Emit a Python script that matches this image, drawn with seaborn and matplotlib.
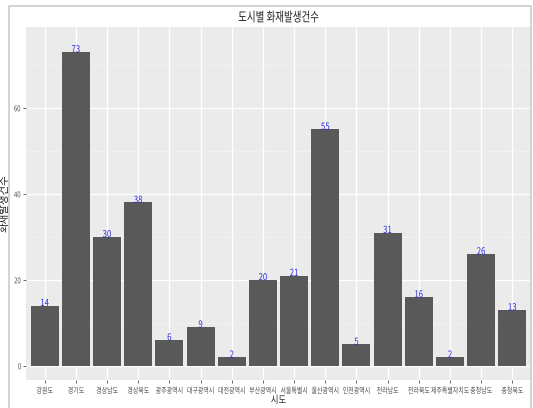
import pandas as pd
import numpy as np
import matplotlib
matplotlib.use("Agg")
import matplotlib.pyplot as plt
import seaborn as sns
from matplotlib.patches import Rectangle
from matplotlib.patheffects import AbstractPathEffect
from matplotlib.transforms import Affine2D

regions = ['강원도', '경기도', '경상남도', '경상북도', '광주광역시', '대구광역시', '대전광역시',
           '부산광역시', '서울특별시', '울산광역시', '인천광역시', '전라남도', '전라북도',
           '제주특별자치도', '충청남도', '충청북도']
fires = [14, 73, 30, 38, 6, 9, 2, 20, 21, 55, 5, 31, 16, 2, 26, 13]

df = pd.DataFrame({'시도': regions, '화재발생건수': fires})


# narrow the glyphs like the squeezed ggplot export
class Squeeze(AbstractPathEffect):
    def __init__(self, sx=0.7):
        super().__init__()
        self.sx = sx

    def draw_path(self, renderer, gc, tpath, affine, rgbFace=None):
        ext = tpath.get_extents()
        cx = (ext.x0 + ext.x1) / 2
        t = Affine2D().translate(-cx, 0).scale(self.sx, 1).translate(cx, 0) + affine
        renderer.draw_path(gc, tpath, t, rgbFace)


sns.set_theme(style='darkgrid', rc={'axes.facecolor': '#ebebeb', 'grid.color': 'white'})
plt.rcParams['font.family'] = ['Noto Sans CJK KR', 'DejaVu Sans']

fig = plt.figure(figsize=(5.33, 4.08), dpi=100)
ax = fig.add_axes([26 / 533, 28 / 408, 505 / 533, 353 / 408])
fig.patches.append(Rectangle((9 / 533, -0.05), (531 - 9) / 533, 1.05 - 6 / 408,
                             transform=fig.transFigure, fill=False,
                             edgecolor='#cccccc', linewidth=1.2, zorder=0))

sns.barplot(data=df, x='시도', y='화재발생건수', color='#595959', saturation=1,
            width=0.9, linewidth=0, ax=ax, zorder=3)
for i, v in enumerate(fires):
    ax.text(i, v + 0.6, str(v), color='#2b2bd9', ha='center', va='center',
            fontsize=7, zorder=4, path_effects=[Squeeze(0.8)])

ax.set_xlim(-0.6, len(regions) - 0.4)
ax.set_ylim(-3.3, 78.8)
ax.set_yticks([0, 20, 40, 60])
ax.set_yticks([10, 30, 50, 70], minor=True)
ax.grid(which='major', color='white', linewidth=1.0)
ax.grid(which='minor', color='#f5f5f5', linewidth=0.5)
ax.tick_params(axis='both', labelsize=5.8, labelcolor='#4d4d4d', color='#4d4d4d',
               length=2.5, width=0.6, pad=2, bottom=True, left=True)
ax.tick_params(axis='y', pad=1, length=2)
ax.tick_params(which='minor', length=0)
for lab in ax.get_xticklabels() + ax.get_yticklabels():
    lab.set_path_effects([Squeeze(0.74)])
for s in ax.spines.values():
    s.set_visible(False)

ax.set_title('도시별 화재발생건수', fontsize=9.5, pad=4, color='#222222',
             path_effects=[Squeeze(0.72)])
ax.set_xlabel('시도', fontsize=7.5, labelpad=0, path_effects=[Squeeze(0.8)])
ax.set_ylabel('화재발생건수', fontsize=7.5)
ax.yaxis.set_label_coords(-0.033, 0.5)

fig.savefig('out.png', dpi=100)
